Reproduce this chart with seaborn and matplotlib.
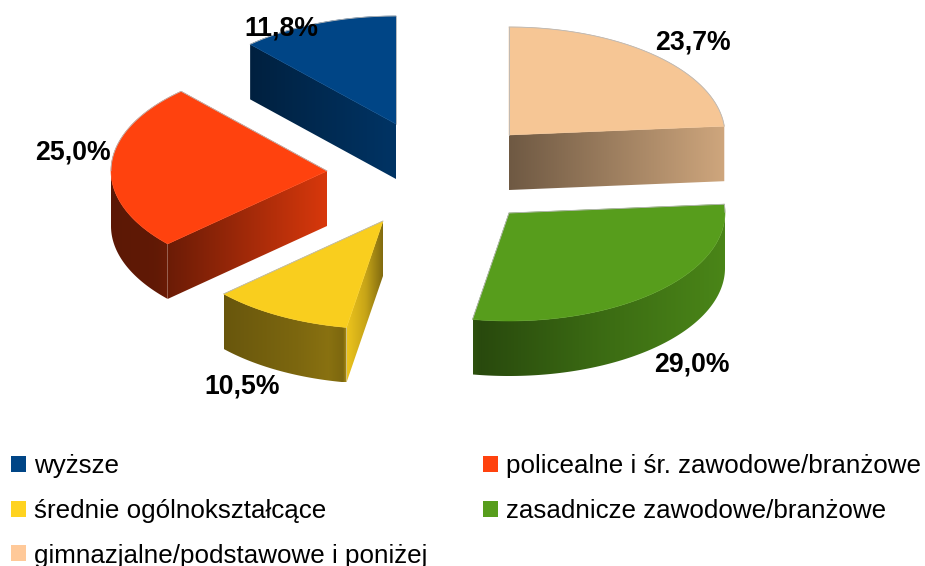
import numpy as np
import matplotlib
matplotlib.use("Agg")
import matplotlib.pyplot as plt
from matplotlib.patches import Patch, Polygon
import seaborn as sns

# Data (counter-clockwise from 12 o'clock)
categories = ["wyższe", "policealne i śr. zawodowe/branżowe", "średnie ogólnokształcące",
              "zasadnicze zawodowe/branżowe", "gimnazjalne/podstawowe i poniżej"]
values = [11.8, 25.0, 10.5, 29.0, 23.7]
colors_hex = ["#004586", "#ff420e", "#f9ce1e", "#579d1c", "#f6c695"]
legend_hex = ["#004586", "#ff420e", "#ffd320", "#579d1c", "#ffc999"]

# Style / layout
centers = [(396, 124), (327, 171), (383, 221), (509, 213), (509, 135)]
label_pos = [(281, 28), (73, 153), (242, 386), (692, 365), (693, 42)]
visible_cut = [-1, -1, -1, None, 0]
RX, RY, DEPTH = 216, 108, 55
rim_stops = [[(0, .47), (1, .75)], [(0, .36), (.8, .38), (1, .42)],
             [(0, .42), (.6, .5), (.85, .55), (.97, .5), (1, .7)],
             [(0, .52), (.03, .47), (.5, .68), (1, .85)], [(0, .45), (1, .84)]]
cut_stops = [[(0, .47), (1, .75)], [(0, .42), (1, .85)],
             [(0, .95), (.5, .8), (1, .5)], [(0, .5), (1, .85)], [(0, .45), (1, .84)]]

sns.set_theme(style="white")
plt.rcParams["font.family"] = ["Liberation Sans", "DejaVu Sans"]
palette = sns.color_palette(colors_hex)
legend_palette = sns.color_palette(legend_hex)

fig = plt.figure(figsize=(9.25, 5.66), dpi=100)
ax = fig.add_axes([0, 0, 1, 1])


def ribbon(xs, ys, color, stops, z):
    """Extruded ribbon below the polyline, with a smooth left-to-right shade."""
    xs, ys = np.asarray(xs), np.asarray(ys)
    sx, sf = zip(*stops)
    factors = np.interp(np.linspace(0, 1, 256), sx, sf)
    grad = np.clip(np.outer(factors, color), 0, 1)[np.newaxis, :, :]
    im = ax.imshow(grad, extent=(xs.min(), xs.max(), ys.max() + DEPTH, ys.min()),
                   aspect="auto", interpolation="bilinear", zorder=z)
    poly = Polygon(np.c_[np.r_[xs, xs[::-1]], np.r_[ys, ys[::-1] + DEPTH]],
                   closed=True, transform=ax.transData)
    im.set_clip_path(poly)


fractions = np.array(values) / np.sum(values)
ends = np.cumsum(fractions) * 2 * np.pi
starts = ends - fractions * 2 * np.pi

for i, val in enumerate(values):
    cx, cy = centers[i]
    t = np.linspace(starts[i], ends[i], 240)
    rim_x = cx - RX * np.sin(t)
    rim_y = cy - RY * np.cos(t)
    z = i * 10
    front = np.cos(t) <= 0
    if front.any():
        fx, fy = rim_x[front], rim_y[front]
        s = np.argsort(fx)
        ribbon(fx[s], fy[s], palette[i], rim_stops[i], z + 1)
    if visible_cut[i] is not None:
        k = visible_cut[i]
        lx = np.array([cx, rim_x[k]])
        ly = np.array([cy, rim_y[k]])
        s = np.argsort(lx)
        ribbon(lx[s], ly[s], palette[i], cut_stops[i], z + 2)
    ax.fill(np.r_[cx, rim_x], np.r_[cy, rim_y], facecolor=palette[i],
            edgecolor=palette[i], lw=0.4, zorder=z + 3)
    # faint outline only where the top face borders the white background
    back = ~front
    if back.any():
        ax.plot(rim_x[back], rim_y[back], color="#b8b8b8", lw=0.6, zorder=z + 4)
    for k in (0, -1):
        is_visible = visible_cut[i] is not None and (k == visible_cut[i])
        if not is_visible:
            ax.plot([cx, rim_x[k]], [cy, rim_y[k]], color="#b8b8b8", lw=0.6, zorder=z + 4)
    lx, ly = label_pos[i]
    ax.text(lx, ly, f"{val:.1f}%".replace(".", ","), ha="center", va="center",
            fontsize=19.2, fontweight="bold", color="black", zorder=100)

ax.set_xlim(0, 925)
ax.set_ylim(566, 0)
ax.axis("off")

order = [0, 2, 4, 1, 3]
handles = [Patch(facecolor=legend_palette[i], edgecolor="none", label=categories[i]) for i in order]
ax.legend(handles=handles, ncol=2, frameon=False, fontsize=18.7, labelcolor="black",
          loc="upper left", bbox_to_anchor=(11 / 925, 1 - 454 / 566), borderaxespad=0, borderpad=0,
          handlelength=0.58, handleheight=0.58, handletextpad=0.32,
          columnspacing=2.12, labelspacing=0.8)

fig.savefig("out.png", dpi=100)
